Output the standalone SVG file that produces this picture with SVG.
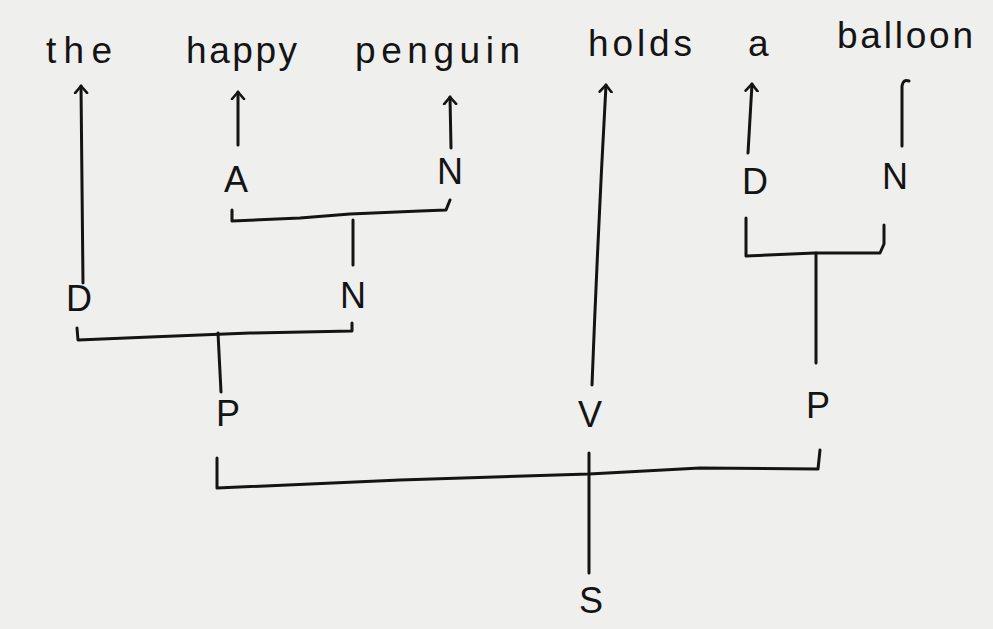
<svg xmlns="http://www.w3.org/2000/svg" width="993" height="629" viewBox="0 0 993 629">
<style>
.w{font-family:"Liberation Sans","DejaVu Sans",sans-serif;font-size:37px;fill:#141414}
.l{font-family:"Liberation Sans","DejaVu Sans",sans-serif;font-size:36px;fill:#141414;text-anchor:middle}
.c{fill:none;stroke:#141414;stroke-width:3;stroke-linecap:round;stroke-linejoin:round}
</style>
<defs>
<marker id="ah" viewBox="-8 -8 16 16" markerWidth="16" markerHeight="16" refX="0" refY="0" orient="auto" markerUnits="userSpaceOnUse">
<path d="M-7,-6 L0,0 L-7,6" fill="none" stroke="#141414" stroke-width="2.6" stroke-linecap="round" stroke-linejoin="round"/>
</marker>
</defs>
<rect width="993" height="629" fill="#efefed"/>
<g id="words">
<g id="w-the"><text class="w" x="46" y="63" textLength="66" lengthAdjust="spacing">the</text></g>
<g id="w-happy"><text class="w" x="186" y="63" textLength="111" lengthAdjust="spacing">happy</text></g>
<g id="w-penguin"><text class="w" x="355" y="63" textLength="165" lengthAdjust="spacing">penguin</text></g>
<g id="w-holds"><text class="w" x="588" y="56" textLength="104" lengthAdjust="spacing">holds</text></g>
<g id="w-a"><text class="w" x="748" y="56" textLength="19" lengthAdjust="spacing">a</text></g>
<g id="w-balloon"><text class="w" x="837" y="48" textLength="136" lengthAdjust="spacing">balloon</text></g>
</g>
<g id="n-A"><text class="l" x="236" y="192">A</text></g>
<g id="n-N1"><text class="l" x="450" y="184">N</text></g>
<g id="n-D2"><text class="l" x="755" y="194">D</text></g>
<g id="n-N3"><text class="l" x="895" y="189">N</text></g>
<g id="n-D1"><text class="l" x="79" y="311">D</text></g>
<g id="n-N2"><text class="l" x="353" y="308">N</text></g>
<g id="n-P1"><text class="l" x="228" y="426">P</text></g>
<g id="n-V"><text class="l" x="590" y="427">V</text></g>
<g id="n-P2"><text class="l" x="818" y="418">P</text></g>
<g id="n-S"><text class="l" x="591" y="613">S</text></g>
<g id="connectors">
<path class="c" marker-end="url(#ah)" d="M83,283 L81,86"/>
<path class="c" marker-end="url(#ah)" d="M238,145 L238,92"/>
<path class="c" marker-end="url(#ah)" d="M451,148 L450,97"/>
<path class="c" marker-end="url(#ah)" d="M592,385 Q598,230 606,85"/>
<path class="c" marker-end="url(#ah)" d="M748,153 L752,84"/>
<path class="c" d="M902,146 L902,86 Q903,79 909,81"/>
<path class="c" d="M232,210 L232,221 L300,218 L350,214 L420,211 L446,210 L450,200"/>
<path class="c" d="M353,220 L353,265"/>
<path class="c" d="M77,328 L78,340 L150,337 L250,333 L352,331 L352,323"/>
<path class="c" d="M218,333 L221,392"/>
<path class="c" d="M746,218 L746,256 L815,253 L880,253 L884,244 L884,225"/>
<path class="c" d="M816,253 L816,363"/>
<path class="c" d="M217,458 L217,488 L400,480 L589,474 L700,468 L818,469 L820,450"/>
<path class="c" d="M589,453 L589,573"/>
</g>
</svg>
